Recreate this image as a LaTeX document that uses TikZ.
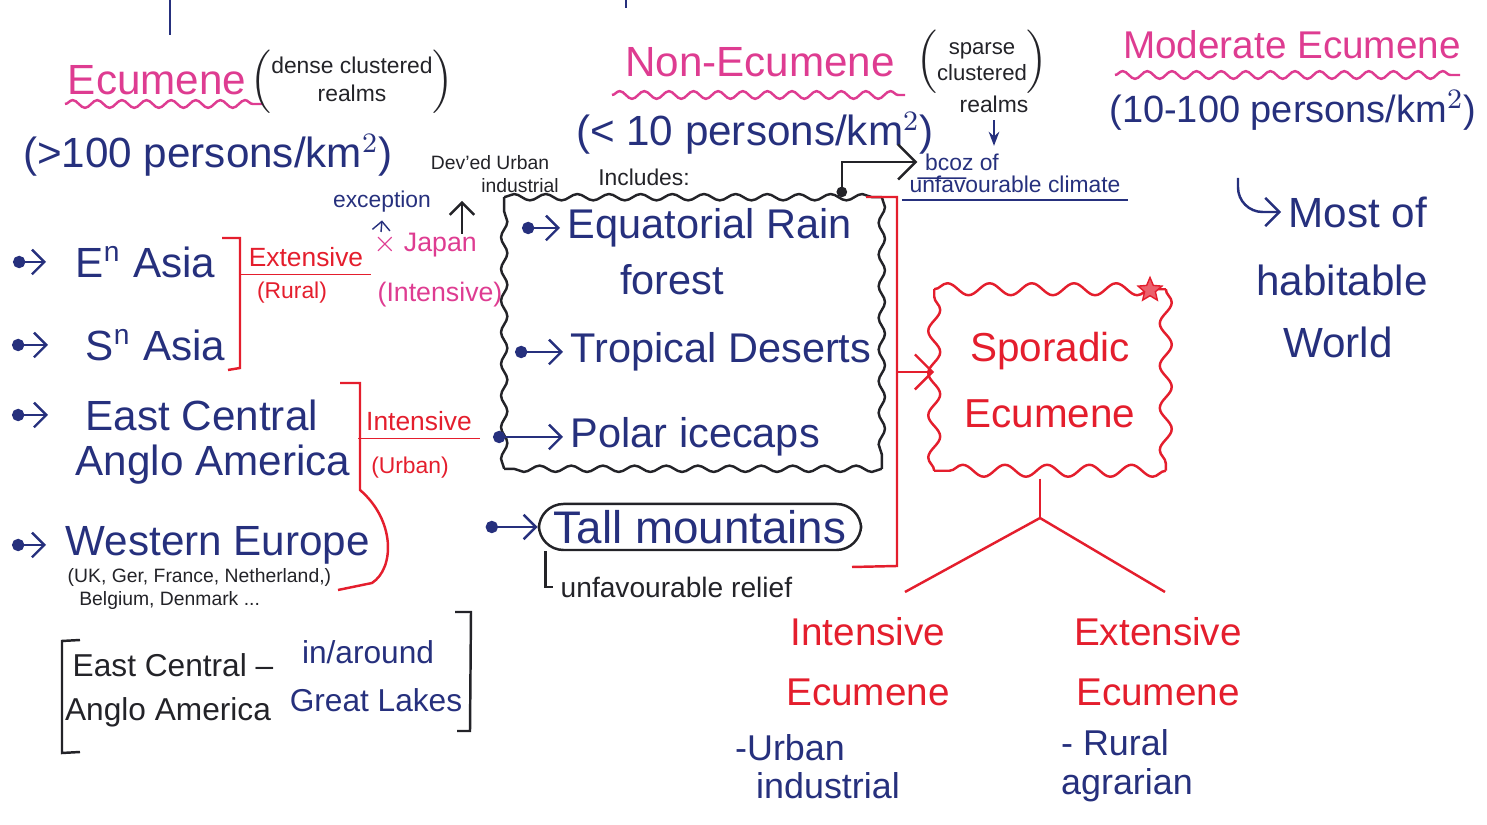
\documentclass[tikz,border=0pt]{standalone}
\usepackage{fontspec}
\setmainfont{Liberation Sans}
\usetikzlibrary{arrows.meta, positioning, shapes.geometric, calc, decorations.pathmorphing}
\definecolor{inkblue}{RGB}{38,48,125}
\definecolor{inkpink}{RGB}{222,60,145}
\definecolor{inkred}{RGB}{228,30,45}
\definecolor{inkblack}{RGB}{35,35,40}

\begin{document}
\begin{tikzpicture}[
    x=0.01cm, y=-0.01cm,
    every node/.style={inner sep=2pt},
    penline/.style={line width=0.7pt},
    heading/.style={font=\fontsize{12}{14}\selectfont, text=inkpink},
    density/.style={font=\fontsize{12}{14}\selectfont, text=inkblue},
    itemtext/.style={font=\fontsize{12}{14}\selectfont, text=inkblue, anchor=west},
    boxitem/.style={font=\fontsize{11.8}{14}\selectfont, text=inkblue, anchor=west},
    smallnote/.style={font=\fontsize{6.5}{8}\selectfont, text=inkblack},
    bluenote/.style={font=\fontsize{6.5}{8}\selectfont, text=inkblue},
    rednote/.style={font=\fontsize{7.5}{9}\selectfont, text=inkred},
    pinknote/.style={font=\fontsize{7.6}{10}\selectfont, text=inkpink},
    redhead/.style={font=\fontsize{11}{17}\selectfont, text=inkred, align=center},
    bracketbox/.style={font=\fontsize{9}{11}\selectfont},
    bluemid/.style={font=\fontsize{10.2}{12}\selectfont, text=inkblue},
    wavyline/.style={decorate, decoration={snake, amplitude=1.1pt, segment length=7pt}},
    wavyedge/.style={draw=inkblack, penline, decorate, decoration={snake, amplitude=0.9pt, segment length=9pt}},
    cloudedge/.style={draw=inkred, penline, decorate, decoration={snake, amplitude=1.7pt, segment length=12pt}},
    cloudtext/.style={text=inkred, align=center, font=\fontsize{11.5}{19}\selectfont},
    mountbox/.style={draw=inkblack, penline, rounded corners=7pt, minimum width=3.22cm, minimum height=0.46cm, inner sep=1pt, text=inkblue, font=\fontsize{13}{15}\selectfont},
    bullet/.style={penline, draw=inkblue, {Circle[length=3.5pt]}-{Straight Barb[length=3.5pt]}},
    barb/.style={penline, -{Straight Barb[length=4pt]}}
]
\useasboundingbox (0,0) rectangle (1487,825);

% ============ STUBS FROM THE TREE ABOVE ============
\draw[inkblue, penline] (170,0) -- (170,35);
\draw[inkblue, penline] (626,0) -- (626,8);

% ============ ECUMENE ============
\node[heading] (ecu) at (157,80) {Ecumene};
\draw[inkpink, penline, wavyline] (65,104) -- (262,104);
\node[smallnote] (dense) at (352,82) {$\left(\begin{tabular}{@{}c@{}}dense clustered\\realms\end{tabular}\right)$};
\node[density] (ecuden) at (208,155) {(>100 persons/km$^2$)};

% ============ NON-ECUMENE ============
\node[heading] (nonecu) at (760,62) {Non-Ecumene};
\draw[inkpink, penline, wavyline] (612,95) -- (905,95);
\node[smallnote, font=\fontsize{6.3}{7.5}\selectfont] (sparse) at (982,62) {$\left(\begin{tabular}{@{}c@{}}sparse\\clustered\end{tabular}\right)$};
\node[smallnote] (realms) at (994,104) {realms};
\node[density] (nonden) at (755,133) {(< 10 persons/km$^2$)};
\node[bluenote] (bcoz) at (962,162) {bcoz of};
\node[bluenote] (climate) at (1015,184) {unfavourable climate};
\draw[inkblue, thin] (bcoz.south west) -- ($(bcoz.south west)!0.55!(bcoz.south east)$);
\draw[inkblue, thin] (climate.south west) -- (climate.south east);
\draw[inkblue, penline, -{Stealth[length=4pt]}] (realms.south) -- (realms.south |- bcoz.north);

% ============ MODERATE ECUMENE ============
\node[heading, font=\fontsize{11}{13}\selectfont] (modecu) at (1292,45) {Moderate Ecumene};
\draw[inkpink, penline, wavyline] (1115,75) -- (1460,75);
\node[density, font=\fontsize{10.8}{13}\selectfont] (modden) at (1293,110) {(10-100 persons/km$^2$)};
\node[density] (most) at (1358,212) {Most of};
\node[density] (habit) at (1342,280) {habitable};
\node[density] (world) at (1338,342) {World};
\coordinate (hookstart) at (1238,178);
\draw[inkblue, barb, rounded corners=7pt] (hookstart) |- (most.west);

% ============ DENSE REALMS LIST ============
\node[itemtext] (eAsia) at (68,262) {E\textsuperscript{n} Asia};
\node[itemtext] (sAsia) at (78,345) {S\textsuperscript{n} Asia};
\node[itemtext] (eca) at (78,415) {East Central};
\node[itemtext] (anglo) at (68,465) {Anglo America};
\node[itemtext] (weur) at (58,545) {Western Europe};
\node[smallnote, font=\fontsize{5.5}{6.5}\selectfont, anchor=west, align=left] (weurnote) at (60,589) {(UK, Ger, France, Netherland,)\\\hspace{0.6em}Belgium, Denmark ...};
\foreach \n/\a/\b in {eAsia/55/22, sAsia/66/30, eca/66/30, weur/46/12}
    \draw[bullet] ($(\n.west)+(-\a,0)$) -- ($(\n.west)+(-\b,0)$);

% Brackets and types
\draw[inkred, penline] (222,238) -- (240,238) -- (240,368) -- (228,370);
\node[rednote] (ext) at (306,257) {Extensive};
\draw[inkred, thin] (ext.south west) -- (ext.south east);
\node[rednote, font=\fontsize{6.5}{8}\selectfont] (rural) at (292,293) {(Rural)};
\draw[inkred, penline] (340,383) -- (360,383) -- (360,490) .. controls (395,520) and (395,568) .. (372,583) -- (338,590);
\node[rednote] (intens) at (419,421) {Intensive};
\draw[inkred, thin] (intens.south west) -- (intens.south east);
\node[rednote, font=\fontsize{6.5}{8}\selectfont] (urban) at (410,468) {(Urban)};

% Japan exception
\node[pinknote] (japan) at (425,245) {$\times$ Japan};
\node[pinknote] (japint) at (440,295) {(Intensive)};
\node[bluenote] (excep) at (382,202) {exception};
\coordinate (xmark) at (381,232);
\draw[inkblue, thin, -{Straight Barb[length=2.5pt]}] (xmark) -- (excep.south);
\node[smallnote, font=\fontsize{5.5}{7}\selectfont] (devurb) at (490,163) {Dev'ed Urban};
\node[smallnote, font=\fontsize{5.5}{7}\selectfont] (indus) at (520,186) {industrial};
\coordinate (devtail) at (462,234);
\draw[inkblack, penline, -{Straight Barb[length=3.5pt]}] (devtail) -- (devtail |- indus.south);

% Great Lakes note
\draw[inkblack, penline] (80,640) -- (62,641) -- (62,753) -- (80,752);
\draw[inkblack, penline] (455,612) -- (471,612) -- (470,731) -- (457,731);
\node[bracketbox, text=inkblack] (boxec) at (173,665) {East Central --};
\node[bracketbox, text=inkblue] (boxin) at (368,652) {in/around};
\node[bracketbox, text=inkblack] (boxaa) at (168,712) {Anglo America};
\node[bracketbox, text=inkblue] (boxgl) at (376,700) {Great Lakes};

% ============ NON-ECUMENE REGIONS ============
\node[smallnote] (incl) at (644,177) {Includes:};
\node[minimum width=3.76cm, minimum height=2.7cm] (nonbox) at (693,333) {};
\foreach \p/\q in {north west/north east, north east/south east, south east/south west, south west/north west}
    \draw[wavyedge] (nonbox.\p) -- (nonbox.\q);
\node[boxitem] (eqr) at (560,228) {Equatorial Rain};
\node[boxitem, anchor=center] (forest) at (672,280) {forest};
\node[boxitem] (trop) at (563,352) {Tropical Deserts};
\node[boxitem] (polar) at (563,437) {Polar icecaps};
\foreach \n/\a in {eqr/38, trop/48, polar/70}
    \draw[bullet] ($(\n.west)+(-\a,0)$) -- (\n.west);
\draw[inkblack, penline, {Circle[length=3pt]}-{Straight Barb[length=5pt]}] ($(nonbox.north east)+(-40,0)$) |- (bcoz.west);

\node[mountbox] (tall) at (700,527) {Tall mountains};
\draw[bullet] ($(tall.west)+(-52,0)$) -- (tall.west);
\node[smallnote, font=\fontsize{8}{10}\selectfont, anchor=west] (relief) at (553,587) {unfavourable relief};
\draw[inkblack, penline] ($(tall.south west)+(8,0)$) |- (relief.west);

% ============ SPORADIC ECUMENE ============
\draw[inkred, penline] (866,197) -- (897,197) -- (897,566) -- (852,567);
\node[cloudtext, minimum width=2.3cm, minimum height=1.8cm] (spor) at (1050,380) {Sporadic\\Ecumene};
\foreach \p/\q in {north west/north east, north east/south east, south east/south west, south west/north west}
    \draw[cloudedge] (spor.\p) -- (spor.\q);
\node[star, star points=5, star point ratio=2.2, draw=inkred, fill=inkred!70, minimum size=0.25cm, inner sep=0pt] (starmark) at (1150,290) {};
\coordinate (brmid) at (897,372);
\draw[inkred, penline, -{Straight Barb[length=5pt]}] (brmid) -- (brmid -| spor.west);

\coordinate (fork) at (1040,518);
\coordinate (lbranch) at (905,592);
\coordinate (rbranch) at (1165,592);
\draw[inkred, penline] ($(spor.south -| fork)+(0,8)$) -- (fork);
\draw[inkred, penline] (lbranch) -- (fork) -- (rbranch);

\node[redhead] (intEco) at (868,662) {Intensive\\Ecumene};
\node[redhead] (extEco) at (1158,662) {Extensive\\Ecumene};
\node[bluemid] (urb1) at (790,748) {-Urban};
\node[bluemid] (urb2) at (828,786) {industrial};
\node[bluemid] (rur1) at (1115,743) {- Rural};
\node[bluemid] (rur2) at (1127,785) {agrarian};

\end{tikzpicture}
\end{document}
